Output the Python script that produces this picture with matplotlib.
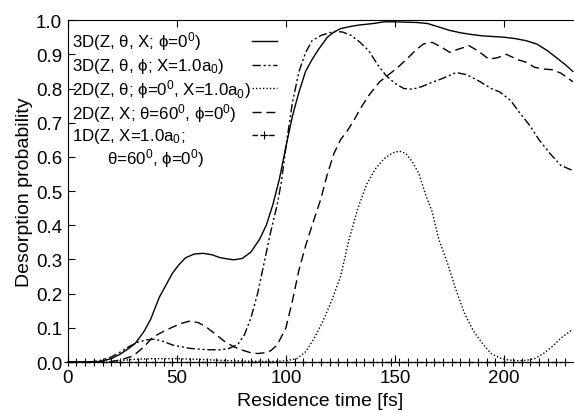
import matplotlib
matplotlib.use("Agg")
import matplotlib.pyplot as plt

plt.rcParams['font.family'] = ['Liberation Sans', 'DejaVu Sans']
plt.rcParams['mathtext.fontset'] = 'custom'
plt.rcParams['mathtext.rm'] = 'Liberation Sans'
plt.rcParams['mathtext.it'] = 'Liberation Sans'

# 3D(Z, theta, X; phi=0)
t_3d_x = [0, 10, 15, 20, 24, 28, 31, 35, 38, 42, 45, 48, 51, 54, 58, 62, 66, 70, 76, 80, 84, 88,
          91, 94, 97, 100, 103, 106, 109, 112, 115, 119, 122, 125, 130, 134, 140, 145, 150, 155,
          160, 165, 170, 175, 180, 185, 190, 195, 200, 205, 210, 215, 220, 225, 228, 231.5]
p_3d_x = [0, 0, 0.002, 0.01, 0.023, 0.04, 0.055, 0.09, 0.125, 0.19, 0.225, 0.26, 0.285, 0.305,
          0.316, 0.318, 0.314, 0.305, 0.299, 0.303, 0.322, 0.36, 0.40, 0.46, 0.535, 0.63, 0.72,
          0.79, 0.85, 0.885, 0.915, 0.95, 0.965, 0.975, 0.982, 0.986, 0.99, 0.995, 0.995, 0.994,
          0.993, 0.99, 0.98, 0.97, 0.963, 0.958, 0.954, 0.952, 0.95, 0.946, 0.94, 0.93, 0.91,
          0.885, 0.87, 0.85]

# 3D(Z, theta, phi; X=1.0a0)
t_3d_phi = [0, 10, 15, 20, 24, 28, 32, 36, 40, 44, 48, 52, 56, 60, 65, 70, 74, 78, 81, 84, 87,
            90, 93, 96, 98, 100, 103, 106, 109, 112, 116, 120, 123, 126, 130, 134, 138, 142, 146,
            150, 154, 158, 162, 167, 172, 178, 183, 189, 194, 198, 203, 207, 212, 216, 221, 226,
            231.5]
p_3d_phi = [0, 0, 0.005, 0.015, 0.029, 0.045, 0.058, 0.065, 0.067, 0.06, 0.05, 0.045, 0.04,
            0.038, 0.036, 0.036, 0.04, 0.052, 0.08, 0.13, 0.2, 0.29, 0.38, 0.46, 0.53, 0.63,
            0.76, 0.85, 0.905, 0.94, 0.955, 0.963, 0.967, 0.965, 0.955, 0.935, 0.91, 0.87, 0.837,
            0.815, 0.80, 0.798, 0.805, 0.818, 0.83, 0.847, 0.84, 0.82, 0.80, 0.79, 0.765, 0.73,
            0.69, 0.65, 0.61, 0.575, 0.56]

# 2D(Z, theta; phi=0, X=1.0a0)
t_2d_th = [0, 20, 25, 30, 40, 50, 60, 70, 80, 90, 95, 100, 105, 109, 113, 117, 121, 125, 129,
           133, 137, 141, 145, 149, 152, 155, 158, 161, 164, 167, 170, 174, 178, 182, 186, 190,
           194, 198, 202, 206, 210, 214, 218, 222, 226, 231.5]
p_2d_th = [0, 0, 0.005, 0.008, 0.01, 0.01, 0.008, 0.005, 0.003, 0.002, 0.002, 0.004, 0.01,
           0.03, 0.07, 0.12, 0.18, 0.25, 0.36, 0.45, 0.52, 0.565, 0.595, 0.612, 0.617, 0.61,
           0.585, 0.55, 0.49, 0.44, 0.36, 0.29, 0.21, 0.14, 0.09, 0.055, 0.025, 0.012, 0.006,
           0.004, 0.005, 0.01, 0.025, 0.045, 0.07, 0.096]

# 2D(Z, X; theta=60, phi=0)
t_2d_x = [0, 15, 19, 24, 30, 35, 39, 44, 48, 52, 56, 60, 64, 68, 72, 76, 80, 84, 87, 90, 93,
          96, 98, 100, 103, 106, 109, 112, 116, 119, 122, 125, 128, 131, 134, 138, 143, 148, 152,
          156, 160, 163, 167, 171, 175, 179, 184, 188, 193, 197, 201, 206, 210, 214, 218, 222,
          226, 231.5]
p_2d_x = [0, 0, 0.001, 0.006, 0.018, 0.045, 0.073, 0.09, 0.102, 0.113, 0.12, 0.115, 0.1, 0.08,
          0.06, 0.045, 0.035, 0.027, 0.025, 0.027, 0.033, 0.05, 0.075, 0.1, 0.18, 0.27, 0.34,
          0.40, 0.477, 0.55, 0.61, 0.65, 0.675, 0.705, 0.74, 0.78, 0.82, 0.845, 0.866, 0.89,
          0.915, 0.93, 0.935, 0.922, 0.906, 0.915, 0.925, 0.91, 0.886, 0.89, 0.90, 0.885, 0.877,
          0.862, 0.857, 0.855, 0.845, 0.82]

# 1D(Z, X=1.0a0; theta=60, phi=0)
t_1d = [0, 4, 8, 12, 16, 20, 24, 28, 32, 36, 40, 44, 48, 52, 56, 60, 64, 68, 72, 76, 80, 84, 88,
        92, 96, 100, 104, 108, 112, 116, 120, 124, 128, 132, 136, 140, 144, 148, 152, 156, 160,
        164, 168, 172, 176, 180, 184, 188, 192, 196, 200, 204, 208, 212, 216, 220, 224, 228]
p_1d = [0.0] * len(t_1d)

labels = [r'3D(Z, θ, X; ϕ=0$^0$)',
          r'3D(Z, θ, ϕ; X=1.0a$_0$)',
          r'2D(Z, θ; ϕ=0$^0$, X=1.0a$_0$)',
          r'2D(Z, X; θ=60$^0$, ϕ=0$^0$)',
          r'1D(Z, X=1.0a$_0$;']

dashdotdot = (0, (6, 2, 1.5, 2, 1.5, 2))
styles = [dict(ls='-'),
          dict(ls=dashdotdot),
          dict(ls=(0, (1, 1.5))),
          dict(ls=(0, (6.5, 3.5))),
          dict(ls=(0, (4, 2, 1, 2, 1, 2)), marker='+', ms=6, mew=0.8)]

fig = plt.figure(figsize=(5.74, 4.14), dpi=100)
ax = fig.add_axes([0.118, 0.123, 0.88, 0.826])

series = [(t_3d_x, p_3d_x), (t_3d_phi, p_3d_phi), (t_2d_th, p_2d_th), (t_2d_x, p_2d_x), (t_1d, p_1d)]
for (t, p), st in zip(series, styles):
    ax.plot(t, p, color='black', lw=1.0, clip_on=False, **st)

# hand-made legend: text left, sample line right
rows_y = [0.939, 0.868, 0.801, 0.731, 0.664]
for lab, y, st in zip(labels, rows_y, styles):
    ax.text(0.008, y, lab, transform=ax.transAxes, fontsize=12.2, va='center', ha='left')
    ax.plot([0.364, 0.414], [y, y], transform=ax.transAxes, color='black', lw=1.0,
            ls=st['ls'], clip_on=False)
    if 'marker' in st:
        ax.plot([0.389], [y], transform=ax.transAxes, color='black', marker='+', ms=6,
                mew=0.8, clip_on=False)
ax.text(0.078, 0.599, r'θ=60$^0$, ϕ=0$^0$)', transform=ax.transAxes, fontsize=12.2,
        va='center', ha='left')

ax.set_xlim(0, 231.5)
ax.set_ylim(0, 1.0)
ax.set_xticks([0, 50, 100, 150, 200])
ax.set_yticks([0.0, 0.1, 0.2, 0.3, 0.4, 0.5, 0.6, 0.7, 0.8, 0.9, 1.0])
ax.tick_params(direction='in', top=True, length=5, labelsize=13.5)
ax.tick_params(axis='x', pad=5)
ax.tick_params(axis='y', pad=4)
ax.spines['right'].set_visible(False)
ax.set_xlabel('Residence time [fs]', fontsize=14, labelpad=4)
ax.set_ylabel('Desorption probability', fontsize=14, labelpad=2)

fig.savefig('out.png', dpi=100)
